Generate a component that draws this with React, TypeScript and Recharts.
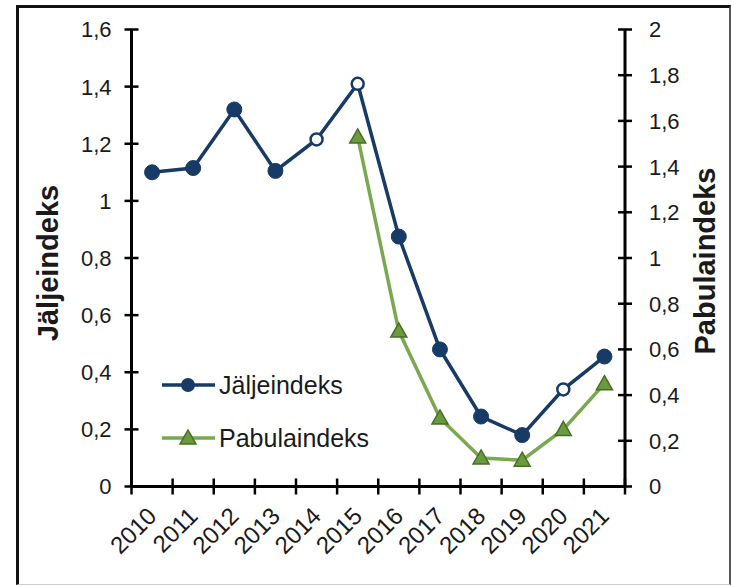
import React from 'react';
import { LineChart, Line, XAxis, YAxis, Legend } from 'recharts';

const years = ['2010', '2011', '2012', '2013', '2014', '2015', '2016', '2017', '2018', '2019', '2020', '2021'];
const jaljeindeks = [1.1, 1.115, 1.32, 1.105, 1.215, 1.41, 0.875, 0.48, 0.245, 0.18, 0.34, 0.455];
const pabulaindeks = [null, null, null, null, null, 1.53, 0.68, 0.3, 0.125, 0.115, 0.25, 0.45];
const openPoints = [false, false, false, false, true, true, false, false, false, false, true, false];
const leftTicks = [0, 0.2, 0.4, 0.6, 0.8, 1, 1.2, 1.4, 1.6];
const rightTicks = [0, 0.2, 0.4, 0.6, 0.8, 1, 1.2, 1.4, 1.6, 1.8, 2];
const seriesNames = ['Jäljeindeks', 'Pabulaindeks'];

const data = years.map((y, i) => ({ year: y, j: jaljeindeks[i], p: pabulaindeks[i], open: openPoints[i] }));

const NAVY = '#173b65';
const GREEN = '#79a94e';
const TRI_FILL = '#6a9a3d';
const TRI_STROKE = '#466e25';
const FONT = '"Liberation Sans", Arial, sans-serif';
const TEXT = '#1a1a1a';

const W = 732;
const H = 586;
const M = { top: 29.5, left: 71.5, right: 47, bottom: 39.5 };
const PLOT_W = W - M.left - M.right - 120;

const fmt = (v: number) => String(v).replace('.', ',');

const LeftTick = (props: any) => {
  const { x, y, payload } = props;
  return (
    <g>
      <line x1={x - 7} x2={x + 7} y1={y} y2={y} stroke="#000" strokeWidth={2.5} />
      <text x={x - 20} y={y} dy="0.36em" textAnchor="end" fontSize={22} fill={TEXT} fontFamily={FONT}>
        {fmt(payload.value)}
      </text>
    </g>
  );
};

const RightTick = (props: any) => {
  const { x, y, payload } = props;
  return (
    <g>
      <line x1={x - 7} x2={x + 7} y1={y} y2={y} stroke="#000" strokeWidth={2.5} />
      <text x={x + 24} y={y} dy="0.36em" textAnchor="start" fontSize={22} fill={TEXT} fontFamily={FONT}>
        {fmt(payload.value)}
      </text>
    </g>
  );
};

const XTick = (props: any) => {
  const { x, y, payload, index } = props;
  const band = (typeof props.width === 'number' && props.width > 0 ? props.width : PLOT_W) / years.length;
  const tx = x + 6;
  const ty = y + 31;
  return (
    <g>
      <line x1={x - band / 2} x2={x - band / 2} y1={y - 8} y2={y + 8} stroke="#000" strokeWidth={2.5} />
      {index === years.length - 1 && (
        <line x1={x + band / 2} x2={x + band / 2} y1={y - 8} y2={y + 8} stroke="#000" strokeWidth={2.5} />
      )}
      <text x={tx} y={ty} textAnchor="end" fontSize={24} fill={TEXT} fontFamily={FONT} transform={`rotate(-45 ${tx} ${ty})`}>
        {payload.value}
      </text>
    </g>
  );
};

const CircleDot = (props: any) => {
  const { cx, cy, payload } = props;
  if (cx == null || cy == null) return null;
  const open = payload && payload.open;
  return (
    <circle cx={cx} cy={cy} r={open ? 6 : 7.5} fill={open ? '#fff' : NAVY} stroke={NAVY} strokeWidth={open ? 2.5 : 1} />
  );
};

const TriDot = (props: any) => {
  const { cx, cy, value } = props;
  if (cx == null || cy == null || value == null) return null;
  const s = 8;
  return (
    <path
      d={`M ${cx} ${cy - s} L ${cx + s} ${cy + s * 0.75} L ${cx - s} ${cy + s * 0.75} Z`}
      fill={TRI_FILL}
      stroke={TRI_STROKE}
      strokeWidth={1.5}
    />
  );
};

const LegendBox = () => (
  <svg width={260} height={100} style={{ overflow: 'visible', display: 'block' }}>
    <g transform="translate(-150 -360)">
      <line x1={162} x2={215} y1={385} y2={385} stroke={NAVY} strokeWidth={3.5} />
      <circle cx={188} cy={385} r={7} fill={NAVY} />
      <text x={219} y={385} dy="0.36em" fontSize={25} fill={TEXT} fontFamily={FONT}>{seriesNames[0]}</text>
      <line x1={162} x2={215} y1={438} y2={438} stroke={GREEN} strokeWidth={3.5} />
      <path d="M 188 430 L 196 444 L 180 444 Z" fill={TRI_FILL} stroke={TRI_STROKE} strokeWidth={1.5} />
      <text x={219} y={438} dy="0.36em" fontSize={25} fill={TEXT} fontFamily={FONT}>{seriesNames[1]}</text>
    </g>
  </svg>
);

export default function App() {
  return (
    <div style={{ position: 'fixed', left: 0, top: 0, width: W, height: H, background: '#fff' }}>
      <div
        style={{
          position: 'absolute',
          left: 16,
          top: 5,
          width: 715,
          height: 580,
          boxSizing: 'border-box',
          borderTop: '3px solid #111',
          borderLeft: '3px solid #111',
          borderRight: '2px solid #555',
          borderBottom: '1px solid #ccc',
        }}
      />
      <div style={{ position: 'absolute', left: 0, top: 0 }}>
        <LineChart width={W} height={H} data={data} margin={M}>
          <XAxis
            dataKey="year"
            scale="band"
            interval={0}
            height={60}
            tickSize={0}
            tickMargin={0}
            axisLine={{ stroke: '#000', strokeWidth: 3 }}
            tickLine={false}
            tick={(p: any) => <XTick {...p} />}
          />
          <YAxis
            yAxisId="left"
            orientation="left"
            width={60}
            domain={[0, 1.6]}
            ticks={leftTicks}
            interval={0}
            tickSize={0}
            tickMargin={0}
            axisLine={{ stroke: '#000', strokeWidth: 3 }}
            tickLine={false}
            tick={(p: any) => <LeftTick {...p} />}
            label={() => (
              <text
                x={48}
                y={263}
                textAnchor="middle"
                dominantBaseline="central"
                fontSize={29}
                fontWeight="bold"
                fill={TEXT}
                fontFamily={FONT}
                transform="rotate(-90 48 263)"
              >
                {seriesNames[0]}
              </text>
            )}
          />
          <YAxis
            yAxisId="right"
            orientation="right"
            width={60}
            domain={[0, 2]}
            ticks={rightTicks}
            interval={0}
            tickSize={0}
            tickMargin={0}
            axisLine={{ stroke: '#000', strokeWidth: 3 }}
            tickLine={false}
            tick={(p: any) => <RightTick {...p} />}
            label={() => (
              <text
                x={705}
                y={261}
                textAnchor="middle"
                dominantBaseline="central"
                fontSize={29}
                fontWeight="bold"
                fill={TEXT}
                fontFamily={FONT}
                transform="rotate(-90 705 261)"
              >
                {seriesNames[1]}
              </text>
            )}
          />
          <Legend
            content={() => <LegendBox />}
            wrapperStyle={{ left: 150, top: 360, width: 0, height: 0, overflow: 'visible' }}
          />
          <Line
            yAxisId="left"
            dataKey="j"
            name={seriesNames[0]}
            stroke={NAVY}
            strokeWidth={3.5}
            dot={(p: any) => <CircleDot key={`c${p.index}`} {...p} />}
            activeDot={false}
            isAnimationActive={false}
          />
          <Line
            yAxisId="right"
            dataKey="p"
            name={seriesNames[1]}
            stroke={GREEN}
            strokeWidth={3.5}
            dot={(p: any) => <TriDot key={`t${p.index}`} {...p} />}
            activeDot={false}
            connectNulls={false}
            isAnimationActive={false}
          />
        </LineChart>
      </div>
    </div>
  );
}
